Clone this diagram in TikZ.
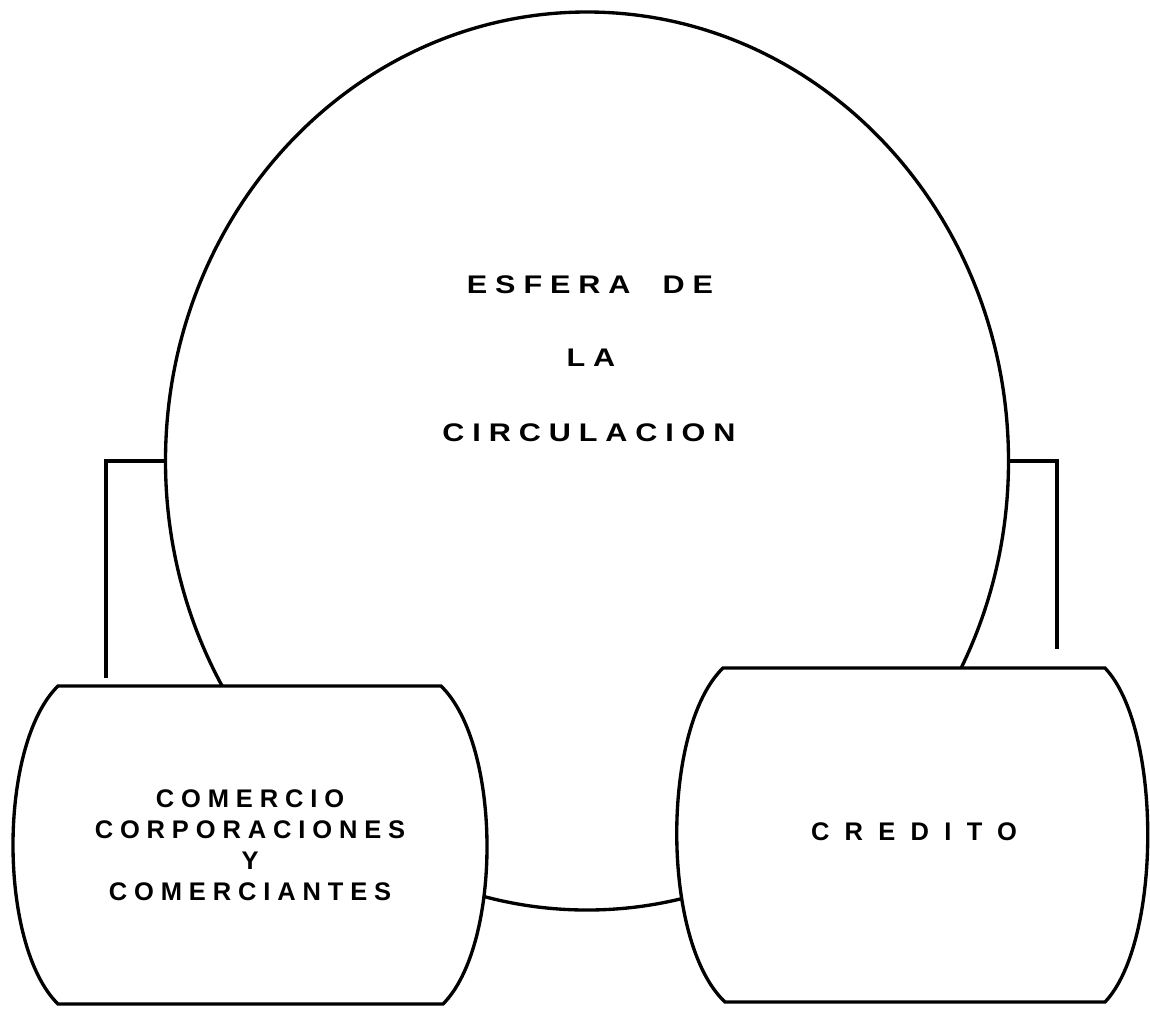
\documentclass[tikz,border=0pt]{standalone}
\usepackage{fontspec}
\setsansfont{Liberation Sans}
\newfontfamily\widesans[FakeStretch=1.2]{Liberation Sans}
\usetikzlibrary{shapes.geometric}
\newcommand{\track}[1]{\addfontfeature{LetterSpace=#1}}

\begin{document}
\begin{tikzpicture}[x=0.2mm,y=-0.2mm,
    line width=1.9pt,
    lbl/.style={font=\sffamily\bfseries\fontsize{14.5}{17.6}\selectfont, inner sep=0pt, align=center},
    ancho/.style={font=\widesans\bfseries\fontsize{14.5}{17.6}\selectfont, inner sep=0pt},
    barril/.style={draw,fill=white},
    ]
    \useasboundingbox (0,0) rectangle (1150,1008);
    % the sphere
    \node[draw,ellipse,minimum width=168.6mm,minimum height=179.6mm,inner sep=0pt] (esfera) at (587,461) {};
    \node[ancho] (esf) at (590,285) {\track{31}ESFERA\hspace{9pt} DE};
    \node[ancho] (la) at (591,358) {\track{31}LA};
    \node[ancho] (circ) at (589,433) {\track{31}CIRCULACION};
    % connectors
    \coordinate (izq) at (106,678);
    \coordinate (der) at (1057,649);
    \draw (esfera.west) -| (izq);
    \draw (esfera.east) -| (der);
    % barrels
    \draw[barril] (58,686) -- (441,686) .. controls (502,745) and (502,945) .. (443,1004)
      -- (58,1004) .. controls (-2,945) and (-2,745) .. (58,686) -- cycle;
    \draw[barril] (723,668) -- (1105,668) .. controls (1162,728) and (1162,942) .. (1105,1002)
      -- (725,1002) .. controls (661,942) and (661,728) .. (723,668) -- cycle;
    \node[lbl] (comercio) at (250,845) {\track{27}COMERCIO\\\track{27}CORPORACIONES\\\track{27}Y\\\track{27}COMERCIANTES};
    \node[lbl] (credito) at (914,832) {\track{60}CREDITO};
\end{tikzpicture}
\end{document}
